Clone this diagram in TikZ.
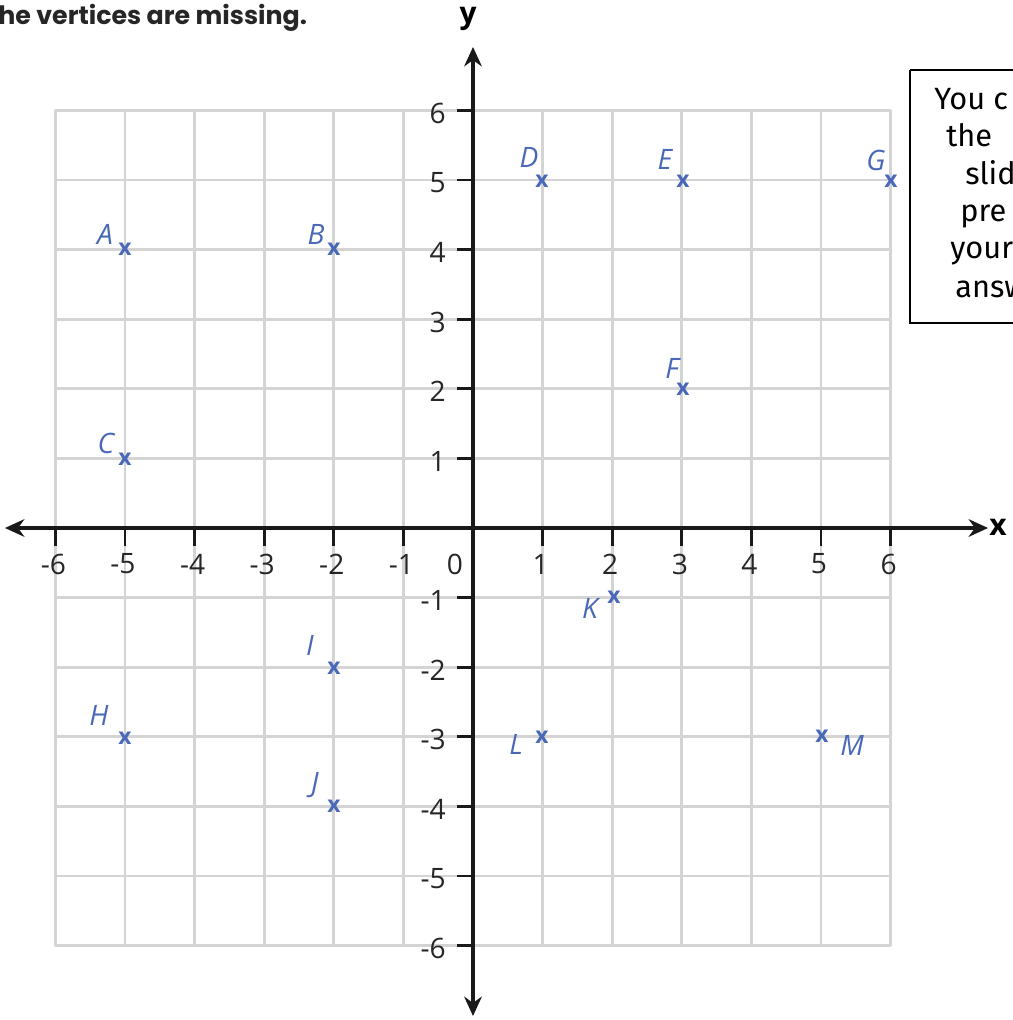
\documentclass[tikz,border=0pt]{standalone}
\usepackage{fontspec}
\setmainfont{Open Sans}
\newfontfamily\headfont{Poppins}
\newfontfamily\boxfont{Fira Sans}
\usetikzlibrary{arrows.meta}
\definecolor{hand}{HTML}{4A68B8}
\definecolor{gridgray}{HTML}{D4D4D4}
\tikzset{
  gridline/.style={draw=gridgray,line width=1.6pt},
  axisline/.style={draw=black!90,line width=2.2pt,{Stealth[length=11pt,width=10pt]}-{Stealth[length=11pt,width=10pt]}},
  tickline/.style={draw=black!90,line width=1.6pt},
  ticklab/.style={font=\fontsize{16}{18}\selectfont,text=black!85,inner sep=0pt},
  axlab/.style={font=\fontsize{17}{19}\selectfont\bfseries,inner sep=0pt},
  ptmark/.style={font=\fontsize{13}{13}\selectfont\bfseries,text=hand,inner sep=0pt},
  ptlab/.style={font=\fontsize{16}{16}\selectfont\itshape,text=hand,inner sep=0pt},
  boxtxt/.style={font=\boxfont\fontsize{17.5}{18}\selectfont,anchor=base west,inner sep=0pt},
}
\begin{document}
\begin{tikzpicture}[x=0.02cm,y=-0.02cm]
\useasboundingbox (0,0) rectangle (1013,1020);
\clip (0,0) rectangle (1013,1020);
% grid
\foreach \i in {-6,...,6} {
  \draw[gridline] ({473+69.6*\i},110.4) -- ({473+69.6*\i},945.6);
  \draw[gridline] (55.4,{528+69.6*\i}) -- (890.6,{528+69.6*\i});
}
% axes
\coordinate (xl) at (5,528);
\coordinate (xr) at (988,528);
\coordinate (yt) at (473,47);
\coordinate (yb) at (473,1016);
\draw[axisline] (xl) -- (xr);
\draw[axisline] (yb) -- (yt);
\node[axlab] (xlab) at (998,527) {x};
\node[axlab] (ylab) at (468,19) {y};
% ticks
\foreach \i in {-6,...,-1,1,2,...,6} {
  \draw[tickline] ({473+69.6*\i},528) -- ({473+69.6*\i},546);
  \draw[tickline] (457,{528-69.6*\i}) -- (473,{528-69.6*\i});
  \node[ticklab] at ({473+69.6*\i-2},564) {\i};
  \node[ticklab,anchor=east] at (446,{528-69.6*\i+3}) {\i};
}
\node[ticklab] (zero) at (455,564) {0};
% heading
\node[anchor=west,inner sep=0pt,font=\headfont\bfseries\fontsize{14.4}{16}\selectfont,text=black!85] (head) at (-2,18) {he vertices are missing.};
% box
\draw[line width=1.3pt] (910,70) -- (1020,70) (910,70) -- (910,323) -- (1020,323);
\node[boxtxt] (b1) at (934,110) {You c};
\node[boxtxt] (b2) at (946,147) {the};
\node[boxtxt] (b3) at (965,185) {slid};
\node[boxtxt] (b4) at (960,222) {pre};
\node[boxtxt] (b5) at (950,259) {your};
\node[boxtxt] (b6) at (955,297) {answ};
% points
\node[ptmark] (A) at (125,249) {x};  \node[ptlab] (Al) at (105,234) {A};
\node[ptmark] (B) at (334,249) {x};  \node[ptlab] (Bl) at (316,234) {B};
\node[ptmark] (C) at (125,459) {x};  \node[ptlab] (Cl) at (106,443) {C};
\node[ptmark] (D) at (542,181) {x};  \node[ptlab] (Dl) at (529,157) {D};
\node[ptmark] (E) at (683,181) {x};  \node[ptlab] (El) at (665,159) {E};
\node[ptmark] (G) at (891,181) {x};  \node[ptlab] (Gl) at (876,160) {G};
\node[ptmark] (F) at (683,389) {x};  \node[ptlab] (Fl) at (672,368) {F};
\node[ptmark] (K) at (614,597) {x};  \node[ptlab] (Kl) at (590,608) {K};
\node[ptmark] (I) at (334,668) {x};  \node[ptlab] (Il) at (310,645) {I};
\node[ptmark] (H) at (125,738) {x};  \node[ptlab] (Hl) at (99,715) {H};
\node[ptmark] (J) at (334,806) {x};  \node[ptlab] (Jl) at (315,785) {J};
\node[ptmark] (L) at (542,737) {x};  \node[ptlab] (Ll) at (516,744) {L};
\node[ptmark] (M) at (822,736) {x};  \node[ptlab] (Ml) at (852,745) {M};
\end{tikzpicture}
\end{document}
